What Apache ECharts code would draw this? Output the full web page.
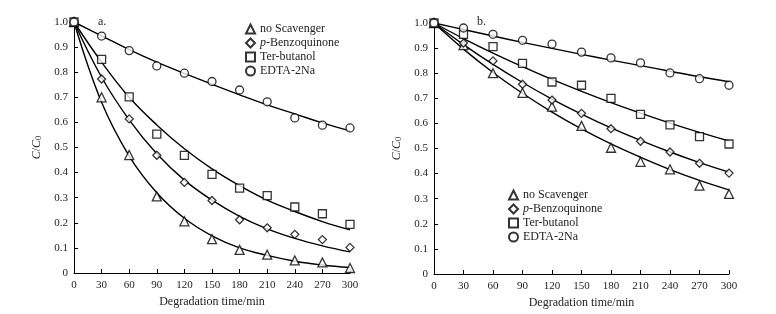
<!DOCTYPE html>
<html>
<head>
<meta charset="utf-8">
<script src="https://cdn.jsdelivr.net/npm/echarts@6/dist/echarts.min.js"></script>
<style>
  html, body { margin: 0; padding: 0; background: #fff; }
  #chart { width: 776px; height: 314px; }
</style>
</head>
<body>
<div id="chart"></div>
<script>
const times = [0, 30, 60, 90, 120, 150, 180, 210, 240, 270, 300];
const names = ["no Scavenger", "p-Benzoquinone", "Ter-butanol", "EDTA-2Na"];
const symbols = ["triangle", "diamond", "rect", "circle"];

// panel a: measured points
const aNoScav = [1.0, 0.70, 0.47, 0.305, 0.206, 0.135, 0.092, 0.073, 0.05, 0.042, 0.02];
const aBenzo = [1.0, 0.773, 0.614, 0.469, 0.361, 0.289, 0.212, 0.18, 0.154, 0.133, 0.102];
const aTerBut = [1.0, 0.851, 0.702, 0.553, 0.469, 0.393, 0.338, 0.308, 0.263, 0.236, 0.194];
const aEdta = [1.0, 0.944, 0.886, 0.825, 0.796, 0.763, 0.729, 0.682, 0.618, 0.589, 0.578];
// panel a: fitted curves read at each time
const aFitNoScav = [1.0, 0.68, 0.466, 0.32, 0.218, 0.148, 0.10, 0.07, 0.047, 0.032, 0.022];
const aFitBenzo = [1.0, 0.78, 0.61, 0.475, 0.37, 0.29, 0.226, 0.176, 0.138, 0.108, 0.084];
const aFitTerBut = [1.0, 0.84, 0.70, 0.59, 0.495, 0.415, 0.348, 0.29, 0.245, 0.205, 0.172];
const aFitEdta = [1.0, 0.945, 0.89, 0.84, 0.795, 0.752, 0.71, 0.67, 0.634, 0.598, 0.566];

// panel b: measured points
const bNoScav = [1.0, 0.912, 0.80, 0.722, 0.667, 0.59, 0.503, 0.447, 0.417, 0.352, 0.319];
const bBenzo = [1.0, 0.92, 0.849, 0.756, 0.693, 0.64, 0.579, 0.529, 0.486, 0.441, 0.402];
const bTerBut = [1.0, 0.955, 0.906, 0.839, 0.765, 0.752, 0.70, 0.636, 0.594, 0.547, 0.518];
const bEdta = [1.0, 0.98, 0.955, 0.931, 0.916, 0.884, 0.861, 0.841, 0.801, 0.778, 0.752];
// panel b: fitted curves
const bFitNoScav = [1.0, 0.896, 0.803, 0.72, 0.645, 0.578, 0.518, 0.465, 0.416, 0.373, 0.335];
const bFitBenzo = [1.0, 0.914, 0.835, 0.763, 0.697, 0.637, 0.582, 0.532, 0.486, 0.444, 0.406];
const bFitTerBut = [1.0, 0.938, 0.88, 0.826, 0.775, 0.728, 0.683, 0.641, 0.601, 0.564, 0.53];
const bFitEdta = [1.0, 0.974, 0.948, 0.923, 0.899, 0.875, 0.852, 0.83, 0.808, 0.786, 0.766];

const FONT = "Liberation Serif";
const pts = (ys) => times.map((t, i) => [t, ys[i]]);

const chart = echarts.init(document.getElementById("chart"));

const grids = [
  { left: 74, top: 22, width: 276, height: 251 },
  { left: 434, top: 23, width: 295, height: 251 },
];

function xAxisFor(idx) {
  return {
    gridIndex: idx,
    type: "value",
    min: 0, max: 300, interval: 30,
    name: "Degradation time/min",
    nameLocation: "middle",
    nameGap: 23,
    nameTextStyle: { fontFamily: FONT, fontSize: 12, color: "#222" },
    axisLine: { show: true, onZero: false, lineStyle: { color: "#000", width: 1 } },
    axisTick: { show: true, inside: true, length: 4, lineStyle: { color: "#000" } },
    axisLabel: { fontFamily: FONT, fontSize: 11, color: "#222", margin: 7 },
    splitLine: { show: false },
  };
}

function yAxisFor(idx) {
  return {
    gridIndex: idx,
    type: "value",
    min: 0, max: 1, interval: 0.1,
    name: "{i|C}/{i|C}{s|0}",
    nameLocation: "middle",
    nameGap: 31,
    nameRotate: 90,
    nameTextStyle: {
      fontFamily: FONT, fontSize: 12, color: "#222",
      rich: {
        i: { fontFamily: FONT, fontSize: 12, fontStyle: "italic", color: "#222" },
        s: { fontFamily: FONT, fontSize: 8.5, color: "#222", verticalAlign: "bottom", padding: [4, 0, 0, 0] },
      },
    },
    axisLine: { show: true, lineStyle: { color: "#000", width: 1 } },
    axisTick: { show: true, inside: true, length: 4, lineStyle: { color: "#000" } },
    axisLabel: {
      fontFamily: FONT, fontSize: 11, color: "#222", margin: 6,
      formatter: (v) => (v === 0 ? "0" : v.toFixed(1)),
    },
    splitLine: { show: false },
  };
}

function markers(name, idx, data, k) {
  return {
    name: name,
    type: "scatter",
    xAxisIndex: idx, yAxisIndex: idx,
    symbol: symbols[k],
    symbolSize: k === 0 ? 9 : 8,
    itemStyle: { color: "#fff", borderColor: "#000", borderWidth: 1.3 },
    data: pts(data),
    z: 3,
  };
}

function fitLine(idx, data) {
  return {
    type: "line",
    xAxisIndex: idx, yAxisIndex: idx,
    showSymbol: false,
    smooth: 0.4,
    lineStyle: { color: "#000", width: 1.4 },
    data: pts(data),
    silent: true,
    z: 2,
  };
}

const legendText = {
  fontFamily: FONT, fontSize: 12, color: "#222",
  rich: { i: { fontFamily: FONT, fontSize: 12, fontStyle: "italic", color: "#222" } },
};
const legendFmt = (n) => (n === "p-Benzoquinone" ? "{i|p}-Benzoquinone" : n);

chart.setOption({
  backgroundColor: "#fff",
  animation: false,
  title: [
    { text: "a.", left: 93, top: 11, textStyle: { fontFamily: FONT, fontSize: 12, fontWeight: "normal", color: "#222" } },
    { text: "b.", left: 472, top: 11, textStyle: { fontFamily: FONT, fontSize: 12, fontWeight: "normal", color: "#222" } },
  ],
  legend: [
    {
      data: names, left: 240, top: 18, orient: "vertical",
      itemWidth: 9, itemHeight: 9, itemGap: 2,
      textStyle: legendText, formatter: legendFmt, selectedMode: false,
    },
    {
      data: names, left: 503, top: 184, orient: "vertical",
      itemWidth: 9, itemHeight: 9, itemGap: 2,
      textStyle: legendText, formatter: legendFmt, selectedMode: false,
    },
  ],
  grid: grids,
  xAxis: [xAxisFor(0), xAxisFor(1)],
  yAxis: [yAxisFor(0), yAxisFor(1)],
  series: [
    fitLine(0, aFitNoScav), fitLine(0, aFitBenzo), fitLine(0, aFitTerBut), fitLine(0, aFitEdta),
    markers(names[0], 0, aNoScav, 0), markers(names[1], 0, aBenzo, 1),
    markers(names[2], 0, aTerBut, 2), markers(names[3], 0, aEdta, 3),
    fitLine(1, bFitNoScav), fitLine(1, bFitBenzo), fitLine(1, bFitTerBut), fitLine(1, bFitEdta),
    markers(names[0], 1, bNoScav, 0), markers(names[1], 1, bBenzo, 1),
    markers(names[2], 1, bTerBut, 2), markers(names[3], 1, bEdta, 3),
  ],
});
</script>
</body>
</html>
